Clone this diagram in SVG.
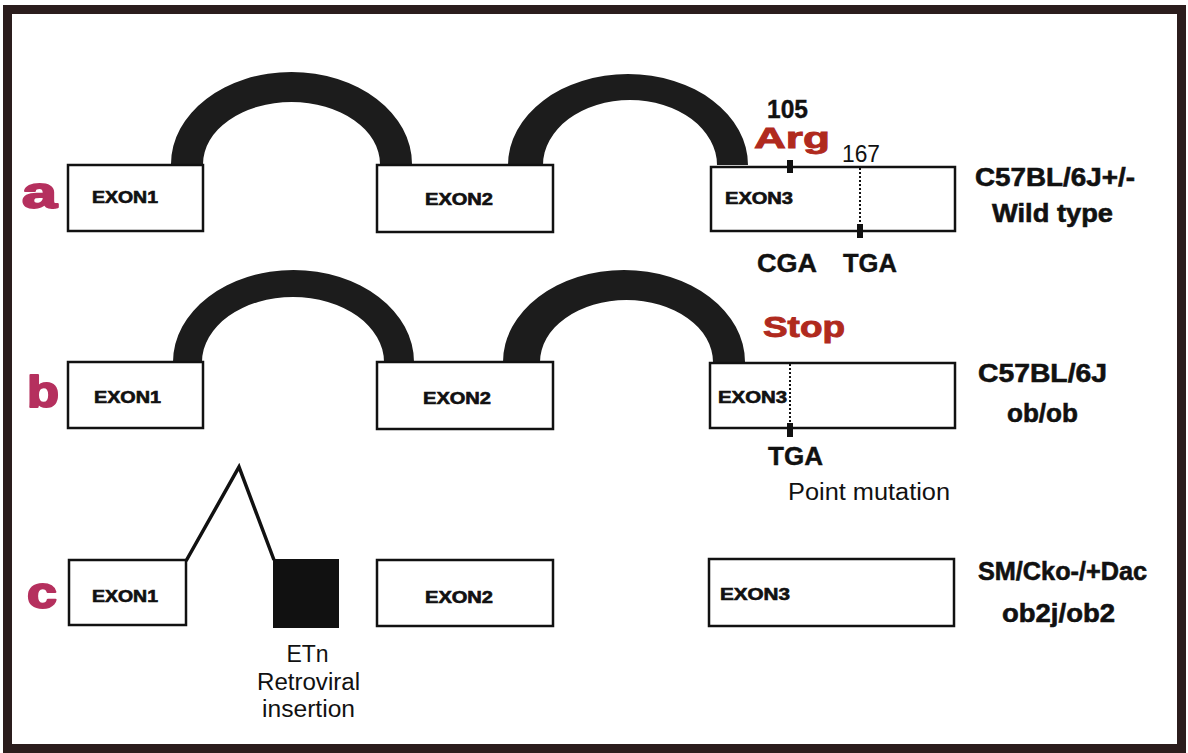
<svg xmlns="http://www.w3.org/2000/svg" width="1188" height="753" viewBox="0 0 1188 753">
<style>
.box{fill:#fff;stroke:#111;stroke-width:2.5}
.arc{fill:#1c1c1c}
.ex{font-family:"Liberation Sans",Arial,sans-serif;font-weight:bold;font-size:16px;fill:#111;stroke:#111;stroke-width:0.6}
.row{font-family:"Liberation Sans",Arial,sans-serif;font-weight:bold;font-size:44px;fill:#b5305e;stroke:#b5305e;stroke-width:2;stroke-linejoin:round}
.strain{font-family:"Liberation Sans Narrow","Liberation Sans",Arial,sans-serif;font-weight:bold;font-size:26px;fill:#111;stroke:#111;stroke-width:0.6}
.red{font-family:"Liberation Sans",Arial,sans-serif;font-weight:bold;font-size:30px;fill:#b02a1e;stroke:#b02a1e;stroke-width:0.9}
.cod{font-family:"Liberation Sans",Arial,sans-serif;font-weight:bold;font-size:25px;fill:#111;stroke:#111;stroke-width:0.4}
.norm{font-family:"Liberation Sans",Arial,sans-serif;font-size:23px;fill:#111}
.dot{stroke:#111;stroke-width:2;stroke-dasharray:2 2;fill:none}
.tick{fill:#111}
</style>
<rect x="0" y="0" width="1188" height="753" fill="#fff"/>
<rect x="7.5" y="9.5" width="1174" height="739" fill="none" stroke="#2b1d1d" stroke-width="9"/>

<g id="connectors">
<path class="arc" d="M171,164 A120.5,92 0 0 1 412,164 L380,164 A88.5,62 0 0 0 203,164 Z"/>
<path class="arc" d="M508,165 A120,91 0 0 1 748,165 L717,165 A87,65 0 0 0 543,165 Z"/>
<path class="arc" d="M173,362 A120.5,92 0 0 1 414,362 L384,362 A91,65 0 0 0 202,362 Z"/>
<path class="arc" d="M503,362 A121,92 0 0 1 745,362 L713,362 A86.5,62 0 0 0 540,362 Z"/>
<polyline points="186,561 239,467 274,560" fill="none" stroke="#111" stroke-width="3.5" stroke-linejoin="miter"/>
</g>

<g id="row-a">
<text class="row" x="22" y="208" textLength="35" lengthAdjust="spacingAndGlyphs">a</text>
<g id="a-exon1"><rect class="box" x="68" y="165" width="135" height="66"/><text class="ex" x="92" y="203" textLength="66" lengthAdjust="spacingAndGlyphs">EXON1</text></g>
<g id="a-exon2"><rect class="box" x="377" y="165" width="176" height="67"/><text class="ex" x="425" y="205" textLength="68" lengthAdjust="spacingAndGlyphs">EXON2</text></g>
<g id="a-exon3"><rect class="box" x="711" y="167" width="244" height="64"/><text class="ex" x="725" y="204" textLength="68" lengthAdjust="spacingAndGlyphs">EXON3</text>
<line class="dot" x1="860" y1="168" x2="860" y2="226"/>
<rect class="tick" x="787" y="160" width="6" height="13"/>
<rect class="tick" x="857" y="224" width="6" height="14"/></g>
<text class="cod" x="767" y="118" font-size="23" textLength="41" lengthAdjust="spacingAndGlyphs">105</text>
<text class="red" x="754" y="148" textLength="76" lengthAdjust="spacingAndGlyphs">Arg</text>
<text class="norm" x="842" y="162" font-size="22" textLength="38" lengthAdjust="spacingAndGlyphs">167</text>
<text class="cod" x="757" y="272" textLength="60" lengthAdjust="spacingAndGlyphs">CGA</text>
<text class="cod" x="843" y="272" textLength="54" lengthAdjust="spacingAndGlyphs">TGA</text>
<text class="strain" x="975" y="186" textLength="160" lengthAdjust="spacingAndGlyphs">C57BL/6J+/-</text>
<text class="strain" x="992" y="222" textLength="121" lengthAdjust="spacingAndGlyphs">Wild type</text>
</g>

<g id="row-b">
<text class="row" x="27" y="407" textLength="32" lengthAdjust="spacingAndGlyphs">b</text>
<g id="b-exon1"><rect class="box" x="68" y="362" width="135" height="66"/><text class="ex" x="94" y="403" textLength="67" lengthAdjust="spacingAndGlyphs">EXON1</text></g>
<g id="b-exon2"><rect class="box" x="377" y="362" width="176" height="67"/><text class="ex" x="423" y="404" textLength="68" lengthAdjust="spacingAndGlyphs">EXON2</text></g>
<g id="b-exon3"><rect class="box" x="710" y="363" width="245" height="65"/><text class="ex" x="718" y="403" textLength="69" lengthAdjust="spacingAndGlyphs">EXON3</text>
<line class="dot" x1="790" y1="364" x2="790" y2="424"/>
<rect class="tick" x="787" y="423" width="6" height="14"/></g>
<text class="red" x="763" y="337" textLength="82" lengthAdjust="spacingAndGlyphs">Stop</text>
<text class="cod" x="768" y="465" textLength="55" lengthAdjust="spacingAndGlyphs">TGA</text>
<text class="norm" x="788" y="500" font-size="24" textLength="162" lengthAdjust="spacingAndGlyphs">Point mutation</text>
<text class="strain" x="978" y="382" textLength="129" lengthAdjust="spacingAndGlyphs">C57BL/6J</text>
<text class="strain" x="1007" y="422" textLength="71" lengthAdjust="spacingAndGlyphs">ob/ob</text>
</g>

<g id="row-c">
<text class="row" x="27" y="608" textLength="30" lengthAdjust="spacingAndGlyphs">c</text>
<g id="c-exon1"><rect class="box" x="69" y="560" width="117" height="65"/><text class="ex" x="92" y="602" textLength="66" lengthAdjust="spacingAndGlyphs">EXON1</text></g>
<g id="c-etn"><rect x="273" y="559" width="66" height="69" fill="#111"/>
<text class="norm" x="307.5" y="662" text-anchor="middle">ETn</text>
<text class="norm" x="308.5" y="690" text-anchor="middle" textLength="103" lengthAdjust="spacingAndGlyphs">Retroviral</text>
<text class="norm" x="308.5" y="717" text-anchor="middle" textLength="93" lengthAdjust="spacingAndGlyphs">insertion</text></g>
<g id="c-exon2"><rect class="box" x="377" y="560" width="176" height="66"/><text class="ex" x="425" y="603" textLength="68" lengthAdjust="spacingAndGlyphs">EXON2</text></g>
<g id="c-exon3"><rect class="box" x="709" y="559" width="245" height="67"/><text class="ex" x="720" y="600" textLength="70" lengthAdjust="spacingAndGlyphs">EXON3</text></g>
<text class="strain" x="978" y="580" textLength="169" lengthAdjust="spacingAndGlyphs">SM/Cko-/+Dac</text>
<text class="strain" x="1002" y="622" textLength="113" lengthAdjust="spacingAndGlyphs">ob2j/ob2</text>
</g>
</svg>
